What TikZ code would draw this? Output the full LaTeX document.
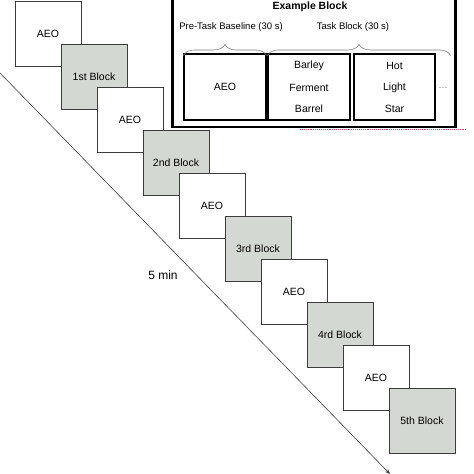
\documentclass[tikz,border=0pt]{standalone}
\usepackage{fontspec}
\setmainfont{Liberation Sans}
\usetikzlibrary{arrows.meta,decorations.pathreplacing}

\definecolor{blockgray}{RGB}{212,216,210}
\definecolor{edgegray}{RGB}{60,60,60}
\definecolor{guidered}{RGB}{225,70,110}

\tikzset{
  slide/.style={draw=edgegray, line width=0.9pt, fill=white, minimum width=66pt,
    minimum height=65pt, inner sep=0pt, font=\fontsize{10.5}{12}\selectfont},
  taskslide/.style={slide, fill=blockgray},
  trial/.style={draw=black, line width=1.1pt, fill=white, minimum width=82pt,
    minimum height=66pt, inner sep=0pt},
  word/.style={font=\fontsize{10.5}{12}\selectfont},
  head/.style={font=\fontsize{9.5}{11}\selectfont},
  phasebrace/.style={draw=gray, line width=0.6pt, decorate,
    decoration={brace, amplitude=11pt}}
}

\begin{document}
\begin{tikzpicture}[x=1pt, y=-1pt]
  \useasboundingbox (0,0) rectangle (474,474);

  % time line
  \coordinate (tstart) at (0,73);
  \coordinate (tend) at (390,474);
  \draw[edgegray, line width=0.6pt, -{Stealth[length=5pt,width=4pt]}] (tstart) -- (tend);
  \node[font=\fontsize{12}{14}\selectfont] (dur) at (163,275) {5 min};

  % sequence of slides
  \node[slide]     (aeoA) at (48,33.5)   {AEO};
  \node[taskslide] (blkA) at (94,76.5)   {1st Block};
  \node[slide]     (aeoB) at (130,119.5) {AEO};
  \node[taskslide] (blkB) at (176,162.5) {2nd Block};
  \node[slide]     (aeoC) at (212,205.5) {AEO};
  \node[taskslide] (blkC) at (258,248.5) {3rd Block};
  \node[slide]     (aeoD) at (294,291.5) {AEO};
  \node[taskslide] (blkD) at (340,334.5) {4rd Block};
  \node[slide]     (aeoE) at (376,377.5) {AEO};
  \node[taskslide] (blkE) at (422,420.5) {5th Block};

  % example block panel
  \node[draw=black, line width=2.2pt, fill=white, minimum width=283pt,
    minimum height=132pt, inner sep=0pt] (panel) at (314,61) {};
  \node[font=\bfseries\fontsize{10.5}{12}\selectfont] (ptitle) at (310,7) {Example Block};

  \node[trial] (base)  at (225,87)   {};
  \node[trial] (taskA) at (309,87)   {};
  \node[trial, minimum width=81pt] (taskB) at (394.5,87) {};
  \node[word] (baseword) at (base) {AEO};
  \node[word] at (309,66)  {Barley};
  \node[word] at (309,88)  {Ferment};
  \node[word] at (309,109) {Barrel};
  \node[word] at (394.5,66)  {Hot};
  \node[word] at (394.5,88)  {Light};
  \node[word] at (394.5,109) {Star};
  \node[head, text=gray, anchor=base] (more) at (443,88) {\dots};

  % braces over the phases
  \draw[phasebrace] ([yshift=-2pt]base.north west) -- ([yshift=-2pt]base.north east);
  \draw[phasebrace] ([yshift=-2pt]taskA.north west) -- ([xshift=15pt,yshift=-2pt]taskB.north east);
  \node[head] (basehead) at (231,27) {Pre-Task Baseline (30 s)};
  \node[head] (taskhead) at (353,27) {Task Block (30 s)};

  % red guide
  \coordinate (gstart) at (300,129.5);
  \coordinate (gend) at (467,129.5);
  \draw[guidered, densely dotted, line width=0.9pt] (gstart) -- (gend);
\end{tikzpicture}
\end{document}
